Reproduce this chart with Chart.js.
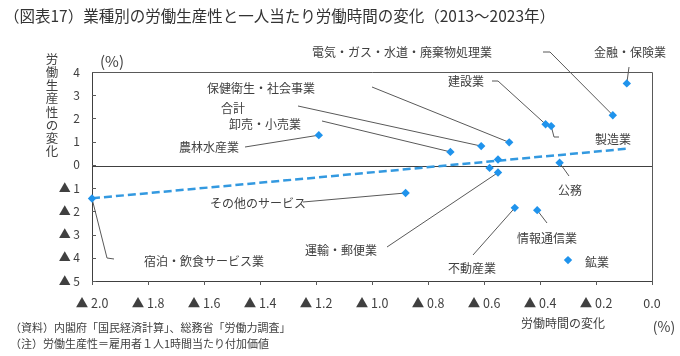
<!DOCTYPE html>
<html><head><meta charset="utf-8">
<script src="https://cdn.jsdelivr.net/npm/chart.js@4"></script>
<style>html,body{margin:0;padding:0;background:#fff}canvas{display:block}</style>
</head><body>
<canvas id="c" width="680" height="356"></canvas>
<script>
// ---- data ----
const categories = ['金融・保険業','電気・ガス・水道・廃棄物処理業','建設業','製造業','保健衛生・社会事業','合計','卸売・小売業','農林水産業','','公務','','運輸・郵便業','その他のサービス','不動産業','情報通信業','宿泊・飲食サービス業','鉱業'];
const hoursChange = [-0.09,-0.14,-0.38,-0.36,-0.51,-0.61,-0.72,-1.19,-0.55,-0.33,-0.58,-0.55,-0.88,-0.49,-0.41,-2.00,-0.30];
const productivityChange = [3.51,2.14,1.75,1.67,0.97,0.81,0.56,1.28,0.23,0.09,-0.13,-0.33,-1.21,-1.85,-1.95,-1.45,-4.10];
const trendX = [-2.0,-0.085];
const trendY = [-1.44,0.70];
const xTicks = [-2.0,-1.8,-1.6,-1.4,-1.2,-1.0,-0.8,-0.6,-0.4,-0.2,0.0];
const yTicks = [4,3,2,1,0,-1,-2,-3,-4,-5];

// ---- label layout (pixel positions, separate from data) ----
const labelLayout = {
  '金融・保険業':{x:630,y:52,lead:[[629,67]]},
  '電気・ガス・水道・廃棄物処理業':{x:402,y:52,lead:[[543,52],[550,52]]},
  '建設業':{x:466,y:81,lead:[[492,81],[498,81]]},
  '製造業':{x:613,y:139,lead:[[559,137],[554,137]]},
  '保健衛生・社会事業':{x:261,y:88,lead:[[372,87]]},
  '合計':{x:233,y:108,lead:[[298,106]]},
  '卸売・小売業':{x:265,y:124,lead:[[322,121]]},
  '農林水産業':{x:209,y:147,lead:[[245,147]]},
  '公務':{x:570,y:190,lead:[[569,176]]},
  'その他のサービス':{x:258,y:203,lead:[[303,202]]},
  '運輸・郵便業':{x:341,y:250,lead:[[387,247]]},
  '不動産業':{x:472,y:268,lead:[[473,255]]},
  '情報通信業':{x:547,y:238,lead:[[547,223]]},
  '宿泊・飲食サービス業':{x:204,y:261,lead:[[114,259],[107,258]]},
  '鉱業':{x:585,y:262,align:'left',lead:[]}
};

const FONT = '"Noto Sans CJK JP","Noto Sans",sans-serif';
const TXT = '#404040';

const pts = hoursChange.map((x,i)=>({x:x,y:productivityChange[i]}));
const trend = trendX.map((x,i)=>({x:x,y:trendY[i]}));

const decor = {
  id:'decor',
  beforeDatasetsDraw(chart){
    const ctx=chart.ctx, a=chart.chartArea, xs=chart.scales.x, ys=chart.scales.y;
    ctx.save();
    ctx.strokeStyle='#595959'; ctx.lineWidth=1;
    ctx.beginPath();
    ctx.moveTo(a.left,a.top+0.5); ctx.lineTo(a.right+0.5,a.top+0.5); ctx.lineTo(a.right+0.5,a.bottom);
    ctx.stroke();
    const y0=Math.round(ys.getPixelForValue(0))+1.5;
    ctx.strokeStyle='#404040';
    ctx.beginPath(); ctx.moveTo(a.left,y0); ctx.lineTo(a.right,y0); ctx.stroke();
    ctx.strokeStyle='#595959';
    ctx.beginPath();
    yTicks.forEach(v=>{const p=Math.round(ys.getPixelForValue(v))+0.5; ctx.moveTo(a.left,p); ctx.lineTo(a.left+4,p);});
    xTicks.forEach(v=>{const p=Math.round(xs.getPixelForValue(v))+0.5; ctx.moveTo(p,a.bottom); ctx.lineTo(p,a.bottom+4);});
    ctx.stroke();
    ctx.strokeStyle='#595959'; ctx.lineWidth=1;
    categories.forEach((c,i)=>{
      const L=labelLayout[c]; if(!L||!L.lead.length) return;
      ctx.beginPath();
      ctx.moveTo(L.lead[0][0],L.lead[0][1]);
      for(let k=1;k<L.lead.length;k++) ctx.lineTo(L.lead[k][0],L.lead[k][1]);
      ctx.lineTo(xs.getPixelForValue(hoursChange[i]),ys.getPixelForValue(productivityChange[i]));
      ctx.stroke();
    });
    ctx.restore();
  },
  afterDraw(chart){
    const ctx=chart.ctx;
    ctx.save();
    ctx.textBaseline='middle';
    ctx.font='15.5px '+FONT; ctx.textAlign='left'; ctx.fillStyle='#333333';
    ctx.fillText('（図表17）業種別の労働生産性と一人当たり労働時間の変化（2013～2023年）',4,16);
    ctx.fillStyle=TXT;
    ctx.font='12px '+FONT;
    categories.forEach(c=>{
      const L=labelLayout[c]; if(!L) return;
      ctx.textAlign=L.align||'center';
      ctx.fillText(c,L.x,L.y);
    });
    ctx.font='12.5px '+FONT; ctx.textAlign='center';
    const yt='労働生産性の変化';
    for(let i=0;i<yt.length;i++) ctx.fillText(yt[i],52,59+i*13.2);
    ctx.font='15px '+FONT;
    ctx.fillText('(%)',112,61);
    ctx.font='14px '+FONT;
    ctx.fillText('(%)',664,327);
    ctx.font='12px '+FONT;
    ctx.fillText('労働時間の変化',563,323);
    ctx.font='11px '+FONT; ctx.textAlign='left';
    ctx.fillText('（資料）内閣府「国民経済計算」、総務省「労働力調査」',10,328);
    ctx.fillText('（注）労働生産性＝雇用者１人1時間当たり付加価値',10,344);
    ctx.restore();
  }
};

new Chart(document.getElementById('c'),{
  type:'scatter',
  data:{datasets:[
    {data:pts,pointStyle:'rectRot',pointRadius:4.2,pointHoverRadius:4.2,backgroundColor:'#1f93ec',borderColor:'#1f93ec',borderWidth:0,clip:false,order:1},
    {data:trend,showLine:true,pointRadius:0,borderColor:'#3399e0',borderWidth:2.5,borderDash:[8,4],clip:false,order:2}
  ]},
  options:{
    responsive:false,animation:false,devicePixelRatio:1,
    layout:{padding:{left:52,top:72,right:28,bottom:35}},
    plugins:{legend:{display:false},tooltip:{enabled:false}},
    scales:{
      x:{type:'linear',min:-2,max:0,
        afterBuildTicks(s){s.ticks=xTicks.map(v=>({value:v}));},
        afterFit(s){s.height=40;},
        grid:{display:false,drawTicks:false},
        border:{display:true,color:'#404040',width:1},
        ticks:{padding:15,color:TXT,font:{family:FONT,size:12.5},maxRotation:0,autoSkip:false,
          callback:v=>Math.abs(v)<1e-9?'0.0':'▲ '+Math.abs(v).toFixed(1)}},
      y:{type:'linear',min:-5,max:4,
        afterBuildTicks(s){s.ticks=yTicks.map(v=>({value:v}));},
        afterFit(s){s.width=40;},
        grid:{display:false,drawTicks:false},
        border:{display:true,color:'#404040',width:1},
        ticks:{padding:12,color:TXT,font:{family:FONT,size:12},autoSkip:false,
          callback:v=>v<0?'▲ '+(-v):String(v)}}
    }
  },
  plugins:[decor]
});
</script>
</body></html>
